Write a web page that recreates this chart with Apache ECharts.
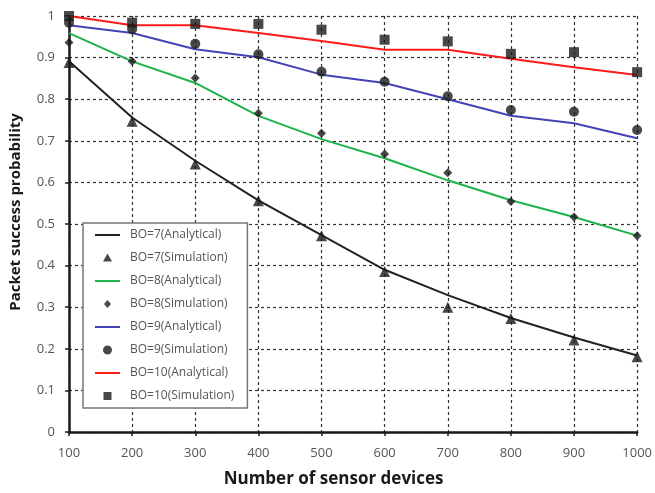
<!DOCTYPE html>
<html>
<head>
<meta charset="utf-8">
<script src="https://cdn.jsdelivr.net/npm/echarts@6/dist/echarts.min.js"></script>
<style>html,body{margin:0;padding:0;background:#fff}#c{width:655px;height:493px}</style>
</head>
<body>
<div id="c"></div>
<script>
const devices = [100, 200, 300, 400, 500, 600, 700, 800, 900, 1000];
const bo7Analytical = [0.891, 0.756, 0.652, 0.557, 0.473, 0.39, 0.329, 0.274, 0.227, 0.184];
const bo7Simulation = [0.888, 0.747, 0.644, 0.556, 0.472, 0.386, 0.30, 0.273, 0.221, 0.181];
const bo8Analytical = [0.959, 0.891, 0.839, 0.76, 0.704, 0.658, 0.605, 0.557, 0.517, 0.472];
const bo8Simulation = [0.936, 0.891, 0.851, 0.766, 0.718, 0.668, 0.623, 0.554, 0.517, 0.472];
const bo9Analytical = [0.978, 0.959, 0.92, 0.901, 0.859, 0.839, 0.80, 0.76, 0.742, 0.706];
const bo9Simulation = [0.984, 0.968, 0.933, 0.908, 0.866, 0.842, 0.807, 0.774, 0.77, 0.726];
const bo10Analytical = [1.0, 0.978, 0.978, 0.959, 0.94, 0.919, 0.919, 0.897, 0.877, 0.858];
const bo10Simulation = [1.0, 0.984, 0.981, 0.981, 0.967, 0.943, 0.939, 0.909, 0.913, 0.865];
const yTicks = [0, 0.1, 0.2, 0.3, 0.4, 0.5, 0.6, 0.7, 0.8, 0.9, 1];

const pair = arr => devices.map((d, i) => [d, arr[i]]);
const FONT = '"Open Sans", sans-serif';
const mark = '#1a1a1a';

// legend icons drawn inside a fixed 25x14 box (degenerate corner points keep the box size)
const BOX = 'M0,0L0,0ZM25,14L25,14Z';
const ICON_LINE = 'path://' + BOX + 'M0,6L25,6L25,8L0,8Z';
const ICON_TRI = 'path://' + BOX + 'M12.5,2.5L17,10.5L8,10.5Z';
const ICON_DIA = 'path://' + BOX + 'M12.5,3L16,7L12.5,11L9,7Z';
const ICON_CIR = 'path://' + BOX + 'M8,7A4.5,4.5 0 1 0 17,7A4.5,4.5 0 1 0 8,7Z';
const ICON_SQ = 'path://' + BOX + 'M8.5,3L16.5,3L16.5,11L8.5,11Z';

function lineSeries(name, data, color) {
  return { name, type: 'line', data: pair(data), symbol: 'none', lineStyle: { color, width: 2 }, itemStyle: { color }, z: 3 };
}
function scatterSeries(name, data, symbol, size) {
  return { name, type: 'scatter', data: pair(data), symbol, symbolSize: size, itemStyle: { color: mark }, z: 4 };
}

const chart = echarts.init(document.getElementById('c'));
chart.setOption({
  animation: false,
  grid: { left: 69, right: 15, top: 16, bottom: 60 },
  xAxis: {
    type: 'value', min: 100, max: 1000, interval: 100,
    name: 'Number of sensor devices', nameLocation: 'middle', nameGap: 39,
    nameTextStyle: { fontFamily: FONT, fontWeight: 'bold', fontSize: 17, color: '#1a1a1a', padding: [0, 39, 0, 0] },
    axisLine: { show: true, lineStyle: { color: '#1a1a1a', width: 2.5 } },
    axisTick: { show: true, length: 4, lineStyle: { color: '#1a1a1a', width: 1.5 } },
    axisLabel: { fontFamily: FONT, fontSize: 13, color: '#555', margin: 15, formatter: v => String(v) },
    splitLine: { show: true, lineStyle: { color: '#333', type: [3, 3], width: 1.2 } }
  },
  yAxis: {
    type: 'value', min: 0, max: 1, interval: 0.1,
    name: 'Packet success probability', nameLocation: 'middle', nameGap: 46,
    nameTextStyle: { fontFamily: FONT, fontWeight: 'bold', fontSize: 15, color: '#1a1a1a', padding: [0, 0, 0, 24] },
    axisLine: { show: true, lineStyle: { color: '#1a1a1a', width: 2.5 } },
    axisTick: { show: true, length: 4, lineStyle: { color: '#1a1a1a', width: 1.5 } },
    axisLabel: { fontFamily: FONT, fontSize: 13, color: '#555', margin: 14,
      formatter: v => { const t = yTicks.find(x => Math.abs(x - v) < 1e-6); return t === undefined ? '' : String(t); } },
    splitLine: { show: true, lineStyle: { color: '#333', type: [3, 3], width: 1.2 } }
  },
  legend: {
    orient: 'vertical', left: 83, top: 223,
    backgroundColor: '#fff', borderColor: '#777', borderWidth: 1.5, borderRadius: 0,
    padding: [5, 13, 5, 12],
    itemWidth: 25, itemHeight: 14, itemGap: 9,
    textStyle: { fontFamily: FONT, fontSize: 12, color: '#555', padding: [0, 0, 0, 5] },
    data: [
      { name: 'BO=7(Analytical)', icon: ICON_LINE },
      { name: 'BO=7(Simulation)', icon: ICON_TRI },
      { name: 'BO=8(Analytical)', icon: ICON_LINE },
      { name: 'BO=8(Simulation)', icon: ICON_DIA },
      { name: 'BO=9(Analytical)', icon: ICON_LINE },
      { name: 'BO=9(Simulation)', icon: ICON_CIR },
      { name: 'BO=10(Analytical)', icon: ICON_LINE },
      { name: 'BO=10(Simulation)', icon: ICON_SQ }
    ]
  },
  series: [
    lineSeries('BO=7(Analytical)', bo7Analytical, '#222222'),
    scatterSeries('BO=7(Simulation)', bo7Simulation, 'triangle', 11),
    lineSeries('BO=8(Analytical)', bo8Analytical, '#1db34a'),
    scatterSeries('BO=8(Simulation)', bo8Simulation, 'diamond', 9),
    lineSeries('BO=9(Analytical)', bo9Analytical, '#4343b5'),
    scatterSeries('BO=9(Simulation)', bo9Simulation, 'circle', 10),
    lineSeries('BO=10(Analytical)', bo10Analytical, '#ff1a1a'),
    scatterSeries('BO=10(Simulation)', bo10Simulation, 'rect', 10)
  ]
});
</script>
</body>
</html>
